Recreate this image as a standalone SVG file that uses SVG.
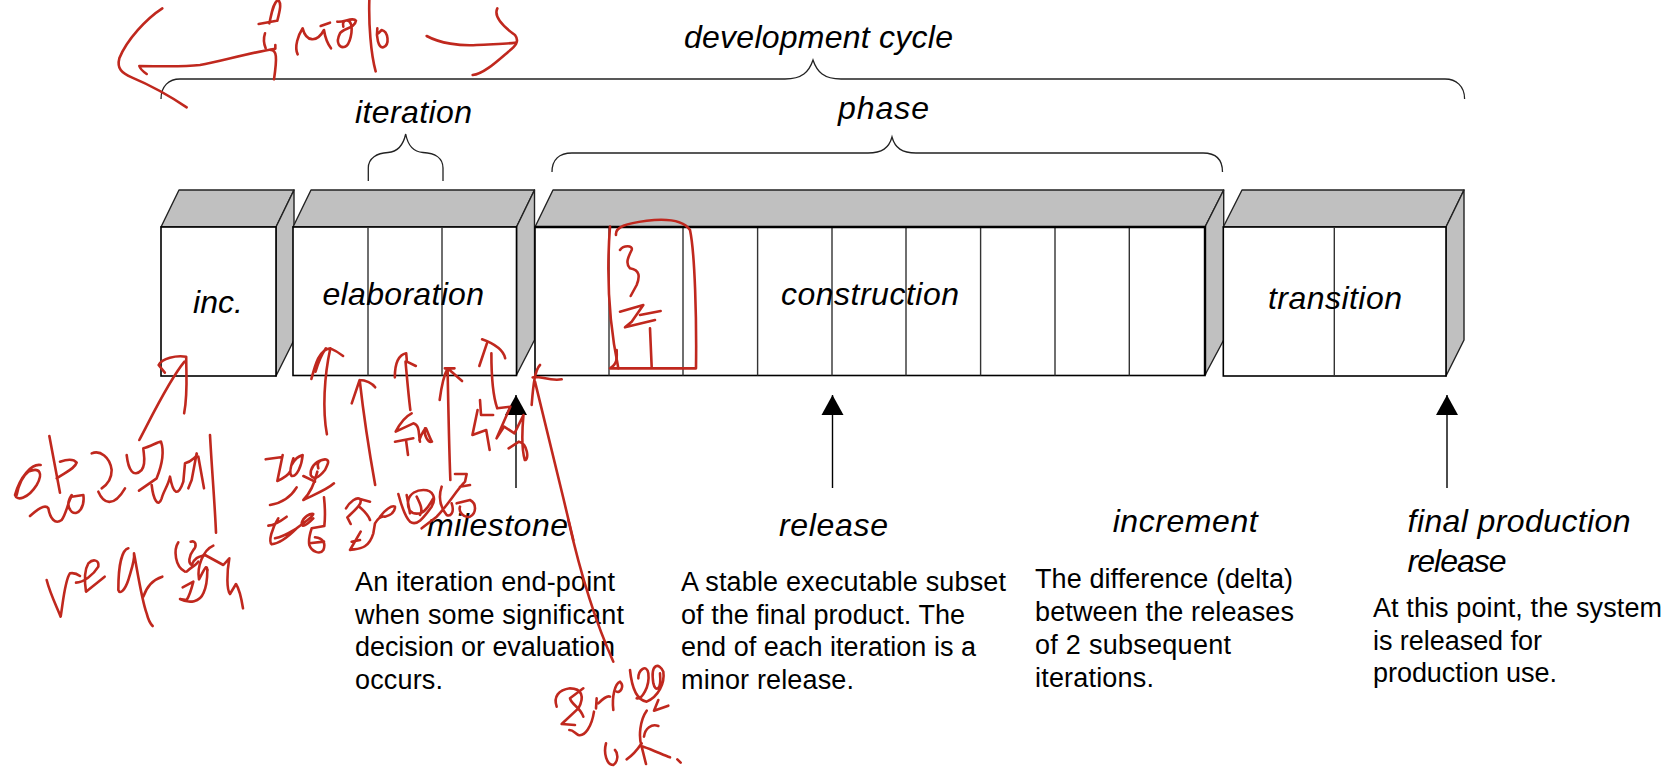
<svg xmlns="http://www.w3.org/2000/svg" width="1680" height="777" viewBox="0 0 1680 777">
<style>
text{font-family:"Liberation Sans",Arial,sans-serif;fill:#000}
.t{font-size:32px;font-style:italic}
.b{font-size:27px}
.f{fill:#fff;stroke:#000;stroke-width:1.6}
.s{fill:#c0c0c0;stroke:#222;stroke-width:1.4;stroke-linejoin:round}
.d{stroke:#333;stroke-width:1.4;fill:none}
.br{fill:none;stroke:#222;stroke-width:1.3}
.c{stroke:#000;stroke-width:1.4;fill:none;marker-end:url(#ah)}
.ink path{fill:none;stroke:#c0281e;stroke-width:2.6;stroke-linecap:round;stroke-linejoin:round;vector-effect:non-scaling-stroke}
</style>
<defs>
<marker id="ah" markerUnits="userSpaceOnUse" markerWidth="24" markerHeight="24" refX="22" refY="12" orient="auto" viewBox="0 0 24 24">
<path d="M22 12L2 1V23Z" fill="#000"/>
</marker>
</defs>
<rect width="1680" height="777" fill="#fff"/>

<g id="bracket-cycle"><path class="br" d="M161 99C161 86 169 79 180 79L785 79C802 79 809 72 813 60C817 72 824 79 841 79L1445 79C1456 79 1464.600 86 1464.600 99"/></g>
<g id="bracket-iteration"><path class="br" d="M368.300 181L368.300 168C368.300 158 377 153 388 152.500C397 152 403 146 405.700 134C408 146 414 152 423 152.500C435 153 443 158 443 168L443 181"/></g>
<g id="bracket-phase"><path class="br" d="M552 172C552 160 559 153 572 153L868 153C882 153 889 148 892 137C895 148 902 153 916 153L1203 153C1216 153 1222.500 160 1222.500 172"/></g>

<g id="node-inc">
<path class="s" d="M161 227L179 190H294L276 227Z"/>
<path class="s" d="M276 227L294 190V340L276 376Z"/>
<rect class="f" x="161" y="227" width="115" height="149"/>
<text class="t" x="193" y="313" textLength="50">inc.</text>
</g>
<g id="node-elaboration">
<path class="s" d="M293 227L311 190H534.500L516.500 227Z"/>
<path class="s" d="M516.500 227L534.500 190V340L516.500 375Z"/>
<rect class="f" x="293" y="227" width="223.500" height="148.500"/>
<path class="d" d="M368 227V375.500M442 227V375.500"/>
<text class="t" x="322.500" y="305" textLength="161.500">elaboration</text>
</g>
<g id="node-construction">
<path class="s" d="M535 227L553 190H1223.700L1205 227Z"/>
<path class="s" d="M1205 227L1223.700 190V340L1205 375Z"/>
<rect class="f" x="535" y="227" width="670" height="148.500"/>
<path class="d" d="M609 227V375.500M683 227V375.500M757.600 227V375.500M832 227V375.500M906 227V375.500M980.600 227V375.500M1055 227V375.500M1129.300 227V375.500"/>
<path d="M535 227H1205V375" fill="none" stroke="#000" stroke-width="2.400"/>
<text class="t" x="781" y="305" textLength="178">construction</text>
</g>
<g id="node-transition">
<path class="s" d="M1223.300 227L1242 190H1464L1446 227Z"/>
<path class="s" d="M1446 227L1464 190V340L1446 376Z"/>
<rect class="f" x="1223.300" y="227" width="222.700" height="149"/>
<path class="d" d="M1334.300 227V376" stroke="#000"/>
<text class="t" x="1268" y="309" textLength="134">transition</text>
</g>

<g id="connectors">
<path class="c" d="M516 488V395"/>
<path class="c" d="M832.500 488V395"/>
<path class="c" d="M1447 488V395"/>
</g>

<g id="labels">
<text class="t" x="684" y="48" textLength="269">development cycle</text>
<text class="t" x="355" y="123" textLength="117">iteration</text>
<text class="t" x="838" y="119" textLength="91">phase</text>
</g>
<g id="milestone">
<text class="t" x="427" y="536" textLength="141">milestone</text>
<text class="b" x="355" y="591" textLength="260">An iteration end-point</text>
<text class="b" x="355" y="624" textLength="269">when some significant</text>
<text class="b" x="355" y="656" textLength="260">decision or evaluation</text>
<text class="b" x="355" y="689" textLength="88">occurs.</text>
</g>
<g id="release">
<text class="t" x="779" y="536" textLength="109">release</text>
<text class="b" x="681" y="591" textLength="325">A stable executable subset</text>
<text class="b" x="681" y="624" textLength="284">of the final product. The</text>
<text class="b" x="681" y="656" textLength="295">end of each iteration is a</text>
<text class="b" x="681" y="689" textLength="173">minor release.</text>
</g>
<g id="increment">
<text class="t" x="1112.700" y="531.500" textLength="145">increment</text>
<text class="b" x="1035" y="588" textLength="258">The difference (delta)</text>
<text class="b" x="1035" y="621" textLength="259">between the releases</text>
<text class="b" x="1035" y="654" textLength="196">of 2 subsequent</text>
<text class="b" x="1035" y="687" textLength="119">iterations.</text>
</g>
<g id="final-production-release">
<text class="t" x="1407.600" y="531.500" textLength="223">final production</text>
<text class="t" x="1407.600" y="571.500" textLength="99">release</text>
<text class="b" x="1373" y="617" textLength="289">At this point, the system</text>
<text class="b" x="1373" y="650" textLength="169">is released for</text>
<text class="b" x="1373" y="682" textLength="184">production use.</text>
</g>

<g id="ink" class="ink">
<g transform="scale(.33333)">
<path d="M487 25C440 55 380 120 358 175C350 205 365 220 395 232C450 255 505 285 560 322"/>
<path d="M440 222C430 215 420 205 418 198C470 198 540 202 600 195C660 185 740 160 826 146L826 135"/>
<path d="M776 72L830 62M832 62C840 30 845 10 835 0C820 5 815 40 808 70"/>
<path d="M795 100C790 115 793 135 797 145M812 150C830 150 832 170 822 238"/>
<path d="M893 163C882 140 895 105 908 85C918 125 950 130 972 90C975 110 982 130 993 145M962 78L990 68"/>
<path d="M1012 65C1030 68 1060 50 1068 62C1065 85 1030 85 1020 100C1005 130 1020 145 1035 140C1050 135 1060 90 1052 70C1045 55 1025 60 1030 80"/>
<path d="M1108 0C1106 70 1112 160 1127 214"/>
<path d="M1132 85C1128 110 1135 145 1150 142C1170 135 1165 95 1145 90L1135 100"/>
<path d="M1280 108C1320 130 1380 138 1430 135C1480 132 1520 132 1545 128"/>
<path d="M1492 25C1480 50 1510 80 1545 105C1560 125 1545 140 1525 155C1490 185 1450 222 1418 225"/>
</g>
<g transform="translate(0 300) scale(.34483 .33333)">
<path d="M404 420C430 370 490 240 535 185M478 218L460 195C470 175 510 165 540 170C540 230 545 280 534 340"/>
<path d="M948 403C935 330 940 230 958 145M903 237C915 190 925 150 958 145C970 150 985 160 995 168M915 215C925 180 935 160 945 145"/>
<path d="M1088 555C1075 480 1055 350 1043 240M1020 310L1043 240C1060 240 1080 250 1088 262"/>
<path d="M1190 330C1185 290 1180 230 1176 185M1145 232C1145 195 1155 165 1178 160L1180 185L1206 198"/>
<path d="M1306 540C1302 430 1300 320 1298 205M1275 300C1280 260 1290 220 1298 205L1340 243M1290 205L1318 205"/>
<path d="M1398 118C1430 130 1460 150 1465 175M1390 198L1412 130"/>
<path d="M1425 160C1425 220 1430 290 1442 325L1480 320L1440 415L1462 380L1492 400L1518 345C1515 380 1510 440 1522 480C1535 480 1530 430 1505 425L1475 445"/>
<path d="M1392 300L1395 345L1430 345M1385 330L1370 405L1410 390L1420 450"/>
</g>
<g transform="translate(0 420) scale(.33333)">
<path d="M148 48L180 218M180 125C195 120 220 115 230 128C225 145 200 155 170 175"/>
<path d="M122 135C95 130 60 170 45 225C50 245 85 235 110 195C130 160 120 140 85 155C65 170 55 200 50 225"/>
<path d="M90 288C110 270 135 250 145 265C150 295 165 315 185 300C200 280 205 240 215 230L250 225C255 260 235 290 215 275C200 260 205 240 215 225"/>
<path d="M275 100C300 90 330 110 335 150C335 180 320 195 305 205M295 215C310 250 340 265 375 205"/>
<path d="M380 105C385 150 400 175 425 150C440 130 430 100 430 85C450 80 475 65 483 65C495 100 480 150 470 175L417 212M455 195C460 240 475 265 485 235C490 215 505 195 510 170C520 225 535 230 550 185L555 130C575 125 595 105 590 100L575 180L565 205M595 110L612 205"/>
<path d="M630 45C635 140 645 260 648 338"/>
</g>
<g transform="translate(260 400) scale(.33333)">
<path d="M17 178L62 172M68 165L52 243C70 235 85 225 90 215M100 175C95 190 85 220 95 228C110 230 125 200 128 165C115 170 105 175 95 195M130 228L165 245"/>
<path d="M185 180C165 185 150 205 152 225C160 240 175 235 195 210C205 190 210 180 195 178C175 180 170 190 175 205"/>
<path d="M172 215C165 245 150 280 130 300C160 285 200 270 222 250M30 315C60 310 90 295 110 262"/>
<path d="M25 377C45 375 60 365 80 350M55 355C35 385 25 425 35 433C60 430 85 410 110 385C135 365 160 350 160 342C150 340 130 350 125 370C125 385 140 375 160 355M45 415C70 410 85 400 110 385"/>
<path d="M192 292C195 320 195 360 193 378L155 385C150 400 145 420 148 435C155 455 180 465 190 450C198 430 190 415 165 412M148 430L192 425"/>
<path d="M258 325C270 305 290 290 300 297C310 310 285 330 262 352L272 372M300 297L330 305M298 320C315 335 325 345 330 360"/>
<path d="M302 395L270 450C295 445 325 450 340 400L345 370C360 345 370 350 375 350C395 345 405 335 405 320C395 315 375 330 360 350M275 425L300 420"/>
<path d="M415 282C425 320 435 350 450 365C470 380 490 355 515 320C530 295 520 270 490 270C470 270 450 280 445 300C440 330 455 345 480 340C500 335 510 310 520 295M440 285L450 340M470 290C480 310 490 330 480 345"/>
<path d="M545 260C535 290 540 320 560 345C570 350 585 340 575 310M585 222L620 222L615 245C590 270 560 320 530 350L485 385M600 260L630 255M590 310L630 300C650 310 650 340 630 350C610 355 595 335 600 320"/>
<path d="M455 40C435 50 420 70 407 95L460 70C480 75 475 100 480 125M405 125L460 115M438 120L444 165M478 120C485 100 495 85 498 85C505 100 510 115 516 125C505 130 490 105 495 85"/>
</g>
<g transform="translate(0 500) scale(.33333)">
<path d="M140 240C150 280 170 320 182 350C190 300 195 240 210 220C220 218 232 222 240 228"/>
<path d="M228 248C250 248 280 225 295 200C298 180 280 175 265 190C250 215 255 255 258 275L314 230"/>
<path d="M385 145C365 150 355 200 355 270C360 285 375 270 385 240C395 205 405 180 402 160C410 200 425 300 440 340C445 360 450 370 458 378M430 290C440 260 455 240 487 230"/>
<path d="M535 127C520 150 525 200 555 215M560 215C575 200 590 195 595 185M572 125C590 120 590 140 580 150C565 170 565 190 575 195C585 170 600 170 615 165"/>
<path d="M640 137C610 150 590 200 597 238C612 210 620 190 622 210M615 165L670 195L688 175C680 220 680 270 690 282L708 252C720 270 725 300 729 325"/>
<path d="M548 262L580 245C575 265 570 285 560 300L540 297C570 312 600 305 610 280C620 260 622 230 622 210"/>
</g>
<g transform="translate(480 340) scale(.33333)">
<path d="M180 75C165 90 160 130 155 195M158 112C175 105 210 125 245 118M165 125C190 230 240 430 280 600"/>
</g>
<g transform="translate(320 520) scale(.33333)">
<path d="M745 0C770 110 810 270 880 425"/>
</g>
<g transform="translate(440 170) scale(.33333)">
<path d="M528 195C525 170 560 160 620 152C680 145 730 150 750 180C765 250 770 450 768 595L510 595C535 580 530 560 530 540"/>
<path d="M510 170C500 300 505 450 535 595"/>
<path d="M540 240C550 225 580 225 575 240C565 260 555 280 570 295C600 300 600 320 590 345L572 378"/>
<path d="M540 425L610 405L575 455L555 472L645 450M600 435L662 423M630 475L635 590"/>
</g>
<g transform="translate(520 640) scale(.33333)">
<path d="M110 200C100 170 115 150 150 145C185 145 195 170 175 205L125 252L165 255"/>
<path d="M190 145L150 175C155 195 180 200 190 230"/>
<path d="M222 215C215 260 195 290 175 285C165 280 160 270 148 270"/>
<path d="M228 205L230 175M235 190C245 180 260 165 270 170M280 210C275 170 285 130 300 125C315 140 300 160 290 155"/>
<path d="M330 90C335 140 350 180 380 185C415 170 435 130 430 95C420 70 390 65 400 130C405 155 425 155 420 100"/>
<path d="M355 115C355 90 380 70 385 100C390 140 365 180 350 175"/>
<path d="M402 212L445 197M415 180L402 212"/>
<path d="M380 212C360 240 355 290 365 320L378 372M320 358C340 345 355 325 365 310M372 290C375 265 395 250 415 258M370 320C400 330 430 345 450 352"/>
<path d="M258 310C250 340 260 375 280 375C295 365 295 340 285 330M472 358L482 368"/>
</g>
</g>
</svg>
